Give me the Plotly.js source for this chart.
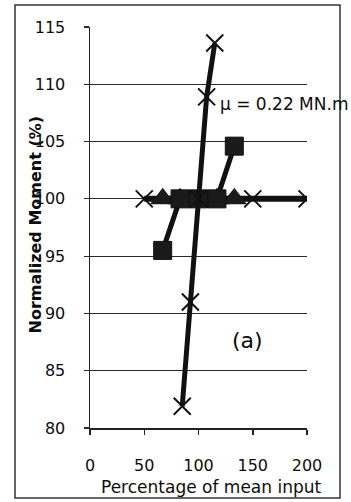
<!DOCTYPE html>
<html>
<head>
<meta charset="utf-8">
<script src="https://cdn.plot.ly/plotly-3.0.1.min.js"></script>
<style>
  html, body { margin: 0; padding: 0; background: #ffffff; }
  #chart { width: 351px; height: 502px; }
</style>
</head>
<body>
<div id="chart"></div>
<script>
// Sensitivity of the normalized moment to each input, varied around its mean value
const steepX = [85, 92.5, 100, 107.5, 115];
const steepY = [81.9, 91.0, 100, 108.9, 113.6];

const flatX = [50, 100, 150, 200];
const flatY = [100, 100, 100, 100];

const triX = [67, 83, 100, 117, 133];
const triY = [100, 100, 100, 100, 100];

const sqX = [67, 83, 100, 117, 133];
const sqY = [95.5, 100, 100, 100, 104.6];

const xTicks = [0, 50, 100, 150, 200];
const yTicks = [80, 85, 90, 95, 100, 105, 110, 115];

const ink = '#111111';
const textInk = '#0d0d0d';
const font = 'DejaVu Sans, sans-serif';

const xMark = { symbol: 'x-thin', size: 17, color: ink, line: { color: ink, width: 2 } };

const traces = [
  { x: flatX, y: flatY, mode: 'lines+markers', name: 'flat',
    line: { color: ink, width: 6 }, marker: xMark },
  { x: triX, y: triY, mode: 'lines+markers', name: 'triangles',
    line: { color: ink, width: 6 },
    marker: { symbol: 'triangle-up', size: 22, color: '#1a1a1a' } },
  { x: sqX, y: sqY, mode: 'lines+markers', name: 'squares',
    line: { color: ink, width: 5 },
    marker: { symbol: 'square', size: 18, color: '#1a1a1a', line: { color: ink, width: 1 } } },
  { x: steepX, y: steepY, mode: 'lines+markers', name: 'steep',
    line: { color: ink, width: 5 }, marker: xMark }
];

// plot area spans 90..307 px horizontally and 27..428 px vertically
const L = 90, R = 307, T = 27, B = 428;
const px = v => (v - L) / (R - L);
const py = v => (B - v) / (B - T);

const layout = {
  width: 351, height: 502,
  margin: { l: L, r: 351 - R, t: T, b: 502 - B, pad: 0 },
  paper_bgcolor: '#ffffff', plot_bgcolor: '#ffffff',
  showlegend: false,
  font: { family: font, color: textInk, size: 16 },
  xaxis: {
    range: [0, 200], tickvals: xTicks, ticktext: xTicks.map(String),
    showgrid: false, zeroline: false,
    showline: true, linecolor: '#222', linewidth: 1.5,
    ticks: 'outside', ticklen: 5, tickwidth: 1.5, tickcolor: '#222',
    ticklabelstandoff: 17,
    tickfont: { family: font, size: 16, color: textInk },
    fixedrange: true
  },
  yaxis: {
    range: [80, 115], tickvals: yTicks, ticktext: yTicks.map(String),
    showgrid: true, gridcolor: '#2a2a2a', gridwidth: 1.2,
    zeroline: false,
    showline: true, linecolor: '#222', linewidth: 1.5,
    ticks: 'outside', ticklen: 5, tickwidth: 1.2, tickcolor: '#2a2a2a',
    ticklabelstandoff: 15,
    tickfont: { family: font, size: 16, color: textInk },
    fixedrange: true
  },
  shapes: [
    { type: 'rect', xref: 'paper', yref: 'paper',
      x0: px(15), x1: px(340), y0: py(498), y1: py(5),
      line: { color: '#333', width: 1.5 }, fillcolor: 'rgba(0,0,0,0)', layer: 'below' }
  ],
  annotations: [
    { xref: 'x', yref: 'y', x: 118, y: 108.3, xanchor: 'left', yanchor: 'middle',
      text: 'μ = 0.22 MN.m', showarrow: false,
      font: { family: font, size: 17, color: textInk } },
    { xref: 'x', yref: 'y', x: 145, y: 87.6, xanchor: 'center', yanchor: 'middle',
      text: '(a)', showarrow: false,
      font: { family: font, size: 22, color: textInk } },
    { xref: 'paper', yref: 'paper', x: px(211), y: py(487), xanchor: 'center', yanchor: 'middle',
      text: 'Percentage of mean input', showarrow: false,
      font: { family: font, size: 17, color: textInk } },
    { xref: 'paper', yref: 'paper', x: px(34.5), y: py(225), xanchor: 'center', yanchor: 'middle',
      text: '<b>Normalized Moment (%)</b>', textangle: -90, showarrow: false,
      font: { family: font, size: 16, color: textInk } }
  ]
};

Plotly.newPlot('chart', traces, layout, { displayModeBar: false, staticPlot: true });
</script>
</body>
</html>
